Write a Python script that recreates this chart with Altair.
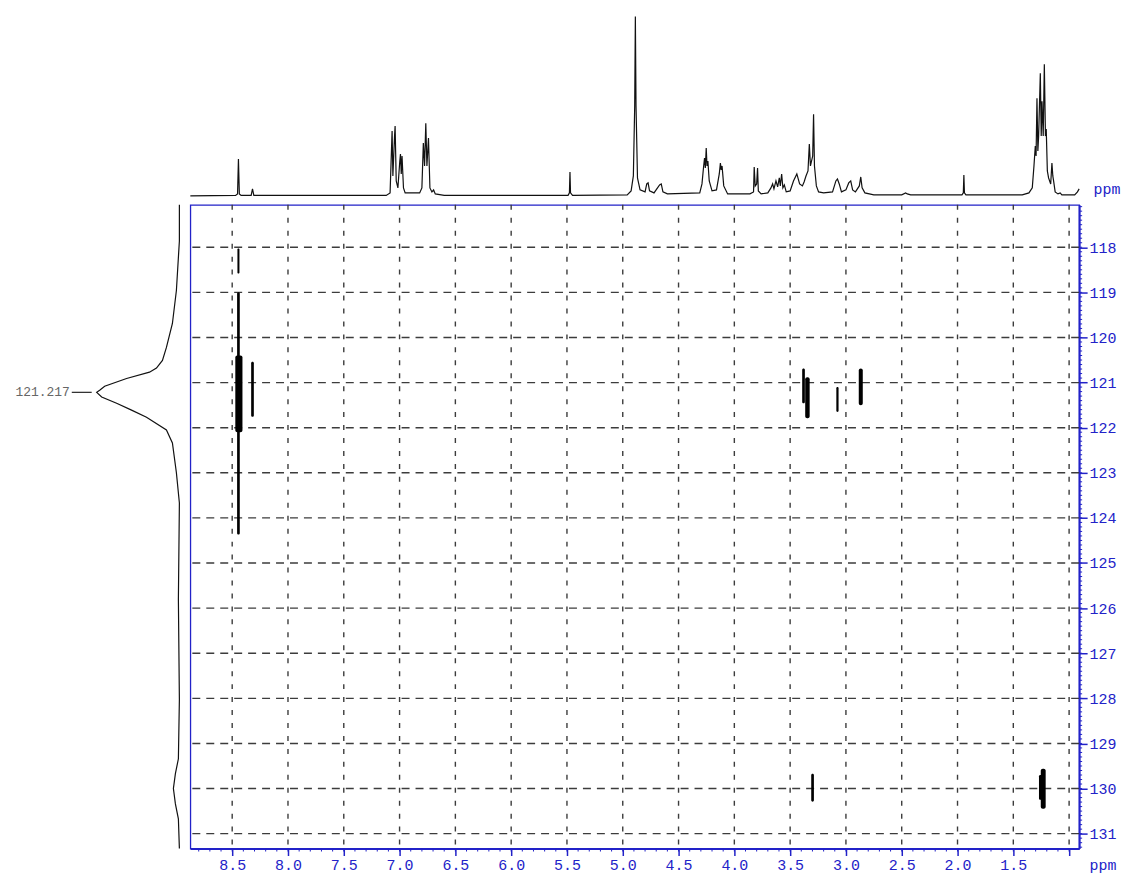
import altair as alt
import pandas as pd
import numpy as np

# ---------------- data ----------------
# top 1H trace: vertices (ppm, intensity in arbitrary units)
top_ppm = [8.875, 8.47, 8.452, 8.444, 8.436, 8.42, 8.33, 8.318, 8.306, 7.12,
           7.085, 7.070, 7.067, 7.060, 7.045, 7.040, 7.030, 7.015, 6.998, 6.992,
           6.985, 6.978, 6.965, 6.95, 6.82, 6.80, 6.787, 6.776, 6.765, 6.755,
           6.741, 6.728, 6.71, 6.695, 6.68, 6.60, 5.49, 5.478, 5.473, 5.468,
           5.45, 4.96, 4.925, 4.905, 4.893, 4.887, 4.881, 4.868, 4.845, 4.80,
           4.785, 4.773, 4.76, 4.72, 4.67, 4.655, 4.64, 4.60, 4.31, 4.29,
           4.275, 4.267, 4.260, 4.252, 4.245, 4.237, 4.225, 4.20, 4.16, 4.135,
           4.125, 4.118, 4.110, 4.095, 4.06, 3.86, 3.828, 3.822, 3.813, 3.800,
           3.792, 3.785, 3.76, 3.70, 3.672, 3.657, 3.645, 3.627, 3.612, 3.597,
           3.588, 3.576, 3.565, 3.552, 3.535, 3.50, 3.47, 3.44, 3.415, 3.39,
           3.375, 3.358, 3.340, 3.328, 3.318, 3.298, 3.290, 3.282, 3.265, 3.245,
           3.20, 3.12, 3.09, 3.076, 3.06, 3.04, 3.00, 2.975, 2.957, 2.94,
           2.915, 2.88, 2.867, 2.855, 2.83, 2.75, 2.50, 2.465, 2.45, 2.42,
           1.96, 1.948, 1.943, 1.938, 1.925, 1.42, 1.36, 1.33, 1.315, 1.303,
           1.296, 1.288, 1.280, 1.273, 1.258, 1.250, 1.243, 1.232, 1.222, 1.212,
           1.205, 1.195, 1.184, 1.165, 1.154, 1.146, 1.139, 1.125, 1.10, 1.08,
           1.065, 1.00, 0.95, 0.925, 0.91]
top_int = [0, 0.5, 2, 37, 2, 0.5, 0.5, 7, 0.5, 0.5,
           3, 55, 65, 20, 60, 70, 15, 8, 35, 42,
           22, 40, 8, 3, 3, 8, 53, 30, 73, 30,
           58, 8, 4, 6, 2, 0.5, 0.5, 3, 24, 3,
           0.5, 1, 5, 20, 90, 180, 90, 18, 6, 4,
           12, 13, 5, 3, 11, 12, 4, 2, 3, 12,
           30, 38, 28, 48, 30, 35, 15, 5, 6, 22,
           33, 26, 30, 10, 2, 2, 4, 29, 10, 12,
           28, 5, 2, 3, 8, 12, 7, 15, 9, 18,
           10, 22, 8, 11, 4, 5, 15, 22, 12, 10,
           14, 20, 25, 52, 30, 40, 82, 30, 10, 4,
           3, 4, 15, 17, 12, 4, 6, 13, 15, 6,
           4, 10, 19, 8, 3, 1, 1, 3, 2, 1,
           1, 3, 21, 3, 1, 1, 3, 8, 30, 50,
           40, 98, 45, 60, 123, 60, 95, 60, 132, 60,
           67, 25, 18, 12, 33, 20, 15, 4, 2, 3,
           1, 1, 1, 4, 7]

# left projection trace: vertices (ppm, intensity)
left_ppm = [117.06, 117.86, 118.96, 119.69, 120.22, 120.51, 120.68, 120.77,
            120.91, 121.08, 121.17, 121.217, 121.32, 121.46, 121.61, 121.77,
            122.05, 122.34, 123.00, 123.67, 125.81, 128.02, 129.34, 129.67,
            130.00, 130.34, 130.67, 131.33]
left_int = [0, 0, 3, 7, 13, 17, 23, 30,
            53, 75, 80, 83, 78, 63, 48, 33,
            13, 7, 3, 0, 1, 0, 1, 4,
            6, 4, 1, 0]
left_peak_ppm = [121.217]
left_peak_int = [83]
left_peak_label = ["121.217"]

# cross peaks: centre (1H ppm), half width (ppm), top / bottom (ppm)
pk_x = [8.444, 8.444, 8.440, 8.318, 3.380, 3.345, 3.076, 2.867, 3.299, 1.258, 1.232]
pk_hw = [0.009, 0.012, 0.032, 0.012, 0.012, 0.020, 0.010, 0.018, 0.012, 0.012, 0.022]
pk_y1 = [118.03, 119.00, 120.40, 120.54, 120.69, 120.88, 121.10, 120.69, 129.67, 129.70, 129.56]
pk_y2 = [118.58, 124.37, 122.10, 121.76, 121.46, 121.79, 121.65, 121.50, 130.29, 130.25, 130.45]

# axes
x_major = [8.5, 8.0, 7.5, 7.0, 6.5, 6.0, 5.5, 5.0, 4.5, 4.0, 3.5, 3.0, 2.5, 2.0, 1.5, 1.0]
y_major = [118, 119, 120, 121, 122, 123, 124, 125, 126, 127, 128, 129, 130, 131]
x_minor = [round(8.8 - 0.1 * i, 1) for i in range(79)]
y_minor = [round(117.1 + 0.1 * i, 1) for i in range(143)]

# ---------------- styling ----------------
BLUE = "#2222C8"
GRID = "#3c3c3c"
MONO = "Liberation Mono"
W, H = 892, 646
W1, H1 = 183, 196

xs = alt.Scale(domain=[0.91, 8.875], reverse=True, nice=False, zero=False)
ys = alt.Scale(domain=[117.06, 131.33], reverse=True, nice=False, zero=False)

x_axis = alt.Axis(values=x_major, orient="bottom", grid=False,
                  labelExpr="datum.value > 1.2 ? format(datum.value, '.1f') : ''",
                  domainColor=BLUE, domainWidth=2, tickColor=BLUE, tickWidth=1.5,
                  tickSize=7, labelColor=BLUE, labelFont=MONO, labelFontSize=15,
                  labelPadding=2, labelFlush=False, labelOverlap=False,
                  title="ppm", titleX=902, titleY=21, titleAlign="left",
                  titleBaseline="alphabetic", titleColor=BLUE, titleFont=MONO,
                  titleFontSize=15, titleFontWeight="normal")
y_axis = alt.Axis(values=y_major, orient="right", grid=False,
                  domainColor=BLUE, domainWidth=2, tickColor=BLUE, tickWidth=1.5,
                  tickSize=8, labelColor=BLUE, labelFont=MONO, labelFontSize=15,
                  labelPadding=2, labelFlush=False, labelOverlap=False, title=None)

# ---------------- main 2D panel ----------------
vgrid = alt.Chart(pd.DataFrame({"ppm": x_major})).mark_rule(
    color=GRID, strokeWidth=1.4, strokeDash=[5, 8]
).encode(x=alt.X("ppm:Q", scale=xs, axis=x_axis))

hgrid = alt.Chart(pd.DataFrame({"f1": y_major})).mark_rule(
    color=GRID, strokeWidth=1.4, strokeDash=[8, 6]
).encode(y=alt.Y("f1:Q", scale=ys, axis=y_axis))

minor_b = alt.Chart(pd.DataFrame({"ppm": x_minor})).mark_rule(
    color=BLUE, strokeWidth=1
).encode(x=alt.X("ppm:Q", scale=xs, axis=x_axis), y=alt.value(H), y2=alt.value(H + 3))

minor_r = alt.Chart(pd.DataFrame({"f1": y_minor})).mark_rule(
    color=BLUE, strokeWidth=1
).encode(y=alt.Y("f1:Q", scale=ys, axis=y_axis), x=alt.value(W), x2=alt.value(W + 3))

pk = pd.DataFrame({"x": pk_x, "hw": pk_hw, "y1": pk_y1, "y2": pk_y2})
peaks = alt.Chart(pk).transform_calculate(
    xa="datum.x + datum.hw", xb="datum.x - datum.hw"
).mark_rect(color="black", cornerRadius=2).encode(
    x=alt.X("xa:Q", scale=xs, axis=x_axis), x2="xb:Q",
    y=alt.Y("y1:Q", scale=ys, axis=y_axis), y2="y2:Q"
)

main = alt.layer(vgrid, hgrid, minor_b, minor_r, peaks).properties(
    width=W, height=H, view=alt.ViewBackground(stroke=BLUE, strokeWidth=1.3)
)

# ---------------- top 1D trace ----------------
top_axis = alt.Axis(labels=False, ticks=False, domain=False, grid=False,
                    title="ppm", titleX=906, titleY=-11, titleAlign="left",
                    titleBaseline="alphabetic", titleColor=BLUE, titleFont=MONO,
                    titleFontSize=15, titleFontWeight="normal")
top = alt.Chart(pd.DataFrame({"ppm": top_ppm, "inten": top_int})).mark_line(
    color="#111111", strokeWidth=1.2
).encode(
    x=alt.X("ppm:Q", scale=xs, axis=top_axis),
    y=alt.Y("inten:Q", scale=alt.Scale(domain=[-9, 187], nice=False, zero=False), axis=None),
).properties(width=W, height=H1)

# ---------------- left projection ----------------
lxs = alt.Scale(domain=[-11, 172], reverse=True, nice=False, zero=False)
left_line = alt.Chart(pd.DataFrame({"ppm": left_ppm, "inten": left_int})).mark_line(
    color="#111111", strokeWidth=1.2
).encode(
    x=alt.X("inten:Q", scale=lxs, axis=None),
    y=alt.Y("ppm:Q", scale=ys, axis=None),
    order="ppm:Q",
)
lab = pd.DataFrame({"ppm": left_peak_ppm, "inten": left_peak_int, "label": left_peak_label})
leader = alt.Chart(lab).transform_calculate(
    a="datum.inten + 5", b="datum.inten + 25"
).mark_rule(color="#333333", strokeWidth=1.3).encode(
    x=alt.X("a:Q", scale=lxs, axis=None), x2="b:Q",
    y=alt.Y("ppm:Q", scale=ys, axis=None),
)
lab_text = alt.Chart(lab).transform_calculate(
    t="datum.inten + 27"
).mark_text(align="right", baseline="middle", font=MONO, fontSize=13, color="#666666").encode(
    x=alt.X("t:Q", scale=lxs, axis=None),
    y=alt.Y("ppm:Q", scale=ys, axis=None),
    text="label:N",
)
left = alt.layer(left_line, leader, lab_text).properties(width=W1, height=H)

empty = alt.Chart(pd.DataFrame({"a": [0]})).mark_point(opacity=0, size=0).encode(
    x=alt.value(W1 / 2), y=alt.value(H1 / 2)
).properties(width=W1, height=H1)

chart = alt.concat(empty, top, left, main, columns=2, spacing=0, bounds="flush").properties(
    padding=0, background="white"
).configure_view(stroke="transparent", strokeWidth=0)

chart.save("out.html", embed_options={"renderer": "svg", "actions": False})
